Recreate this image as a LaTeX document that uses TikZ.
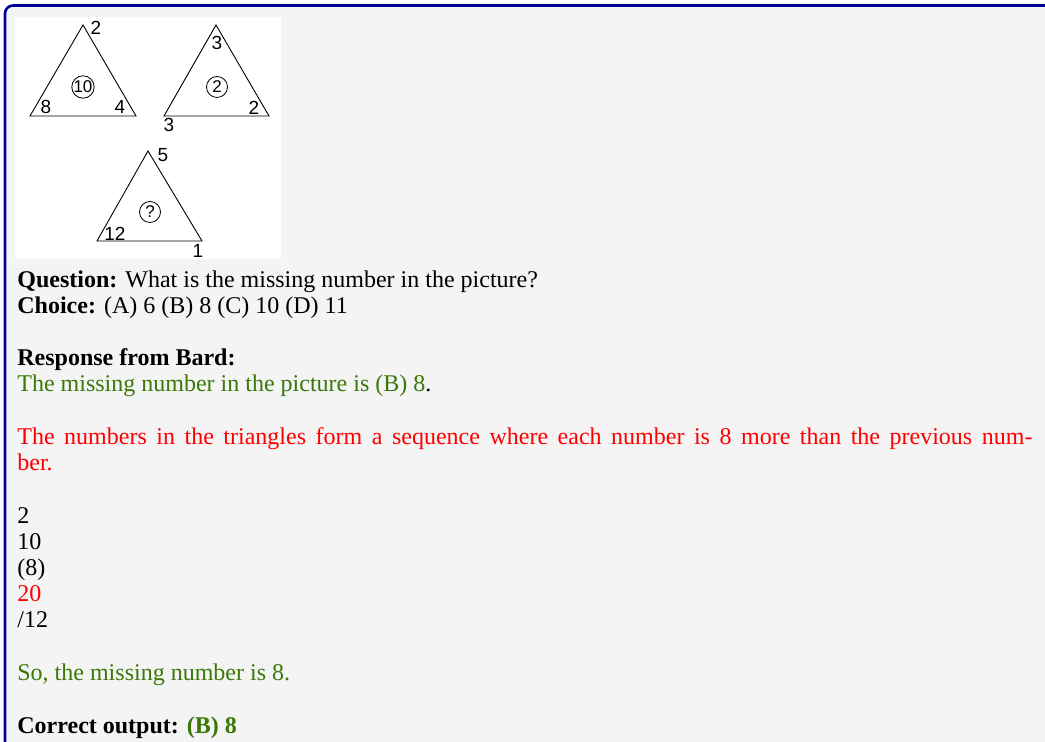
\documentclass[tikz,border=0pt]{standalone}
\usepackage{fontspec}
\setmainfont{Liberation Serif}
\newfontfamily\figfont{Liberation Sans}
\definecolor{framenavy}{RGB}{0,0,150}
\definecolor{boxgray}{RGB}{244,244,244}
\definecolor{answergreen}{RGB}{58,120,8}
\definecolor{wrongred}{RGB}{255,0,0}
\tikzset{
  txt/.style={anchor=base west, inner sep=0pt, font=\fontsize{12}{13}\selectfont},
  fignum/.style={inner sep=0pt, font=\figfont\fontsize{9.5}{10}\selectfont},
  ringnum/.style={circle, draw, thin, minimum size=10.5pt, inner sep=0pt,
    font=\figfont\fontsize{8.5}{9}\selectfont},
  tri/.style={draw, line width=0.45pt}
}
\begin{document}
\begin{tikzpicture}[x=0.5pt, y=-0.5pt]
 \useasboundingbox (0,0) rectangle (1045,742);
 \clip (0,0) rectangle (1045,742);

 % Rahmen und Hintergrund
 \fill[white] (0,0) rectangle (1045,742);
 \fill[boxgray, rounded corners=4pt] (5,5.5) rectangle (1200,900);
 \draw[framenavy, line width=1.3pt, rounded corners=4pt] (5,900) -- (5,5.5) -- (1200,5.5);

 % Bild mit den Dreiecken
 \fill[white] (15,17) rectangle (281,259);
 \draw[tri] (83,25) -- (30,116) -- (136,116) -- cycle;
 \draw[tri] (216,25) -- (164,116) -- (269,116) -- cycle;
 \draw[tri] (148,151) -- (97,241) -- (202,241) -- cycle;

 \node[fignum] (a2) at (96,28) {2};
 \node[ringnum] (a10) at (83,87) {10};
 \node[fignum] (a8) at (46,107) {8};
 \node[fignum] (a4) at (120,107) {4};

 \node[fignum] (b3) at (217,43) {3};
 \node[ringnum] (b2) at (217,87) {2};
 \node[fignum] (b2r) at (254,108) {2};
 \node[fignum] (b3l) at (169,125) {3};

 \node[fignum] (c5) at (163,155) {5};
 \node[ringnum] (cq) at (150,212) {?};
 \node[fignum] (c12) at (115,234) {12};
 \node[fignum] (c1) at (198,251) {1};

 % Frage und Antwort
 \node[txt] (question) at (17,288) {\textbf{Question:} What is the missing number in the picture?};
 \node[txt] (choice) at (17,314) {\textbf{Choice:} (A) 6 (B) 8 (C) 10 (D) 11};
 \node[txt] (response) at (17,366) {\textbf{Response from Bard:}};
 \node[txt, text=answergreen] (answer) at (17,392) {The missing number in the picture is (B) 8\textcolor{black}{.}};
 \node[txt, text=wrongred, text width=507.5pt, align=justify, anchor=north west]
   (reason) at (17,426) {\strut The numbers in the triangles form a sequence where each number is 8 more than the previous num-\linebreak ber.};

 % Zahlenreihe
 \node[txt] (n1) at (17,524) {2};
 \node[txt] (n2) at (17,550) {10};
 \node[txt] (n3) at (17,576) {(8)};
 \node[txt, text=wrongred] (n4) at (17,602) {20};
 \node[txt] (n5) at (17,628) {/12};

 \node[txt, text=answergreen] (so) at (17,681) {So, the missing number is 8.};
 \node[txt] (correct) at (17,734) {\textbf{Correct output:} \textcolor{answergreen}{\textbf{(B) 8}}};
\end{tikzpicture}
\end{document}
